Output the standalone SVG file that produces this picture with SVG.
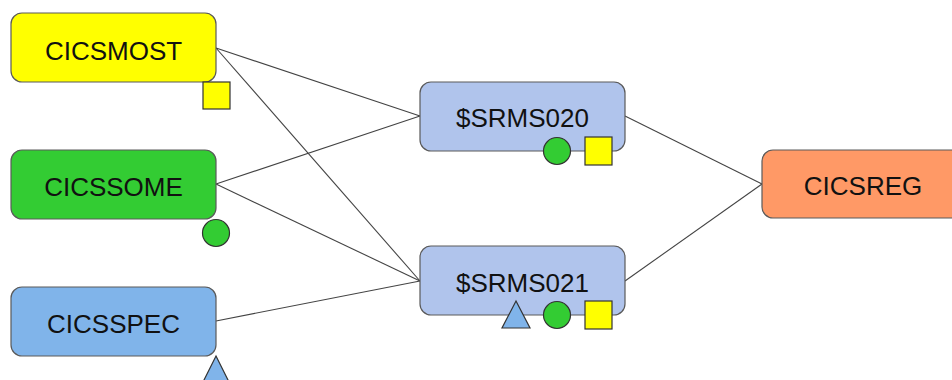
<svg xmlns="http://www.w3.org/2000/svg" width="952" height="380" viewBox="0 0 952 380">
<style>
.box{stroke:#5a5a5a;stroke-width:1.2}
.lbl{font-family:"Liberation Sans",Arial,sans-serif;font-size:26px;fill:#111;text-anchor:middle}
.mk{stroke:#333;stroke-width:1.2}
.edge{stroke:#444;stroke-width:1.1;fill:none}
.y{fill:#ffff00}.g{fill:#33cc33}.b{fill:#80b4ea}.lb{fill:#b0c4ec}.o{fill:#ff9966}
</style>
<rect width="952" height="380" fill="#ffffff"/>
<g id="connectors">
<line class="edge" x1="216" y1="48" x2="420" y2="116"/>
<line class="edge" x1="216" y1="48" x2="420" y2="281"/>
<line class="edge" x1="216" y1="184" x2="420" y2="116"/>
<line class="edge" x1="216" y1="184" x2="420" y2="281"/>
<line class="edge" x1="216" y1="321" x2="420" y2="281"/>
<line class="edge" x1="625" y1="116" x2="762" y2="184"/>
<line class="edge" x1="625" y1="281" x2="762" y2="184"/>
</g>
<g id="CICSMOST">
<rect class="box y" x="11" y="13" width="205" height="69" rx="11"/>
<text class="lbl" x="113.5" y="60">CICSMOST</text>
<rect class="mk y" x="203" y="82" width="27" height="27"/>
</g>
<g id="CICSSOME">
<rect class="box g" x="11" y="150" width="205" height="69" rx="11"/>
<text class="lbl" x="113.5" y="196">CICSSOME</text>
<circle class="mk g" cx="216" cy="233" r="13.5"/>
</g>
<g id="CICSSPEC">
<rect class="box b" x="11" y="287" width="205" height="69" rx="11"/>
<text class="lbl" x="113.5" y="333">CICSSPEC</text>
<polygon class="mk b" points="216,356 230,384 202,384"/>
</g>
<g id="SRMS020">
<rect class="box lb" x="420" y="82" width="205" height="69" rx="11"/>
<text class="lbl" x="522.5" y="127">$SRMS020</text>
<circle class="mk g" cx="557" cy="151" r="13.5"/>
<rect class="mk y" x="585" y="137" width="27" height="28"/>
</g>
<g id="SRMS021">
<rect class="box lb" x="420" y="246" width="205" height="69" rx="11"/>
<text class="lbl" x="522.5" y="292">$SRMS021</text>
<polygon class="mk b" points="516,301 530,328 502,328"/>
<circle class="mk g" cx="557" cy="315" r="13.5"/>
<rect class="mk y" x="585" y="301" width="27" height="28"/>
</g>
<g id="CICSREG">
<rect class="box o" x="762" y="150" width="202" height="68" rx="11"/>
<text class="lbl" x="863" y="195">CICSREG</text>
</g>
</svg>
